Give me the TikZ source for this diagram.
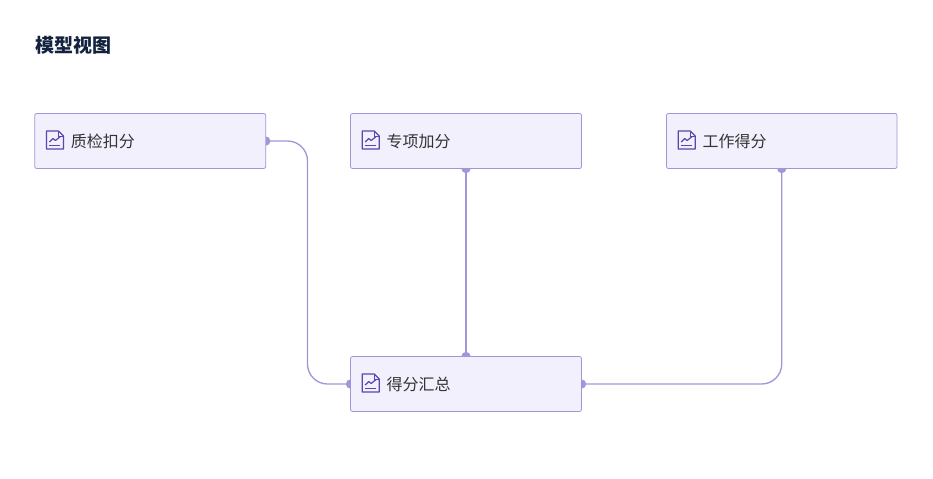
\documentclass[tikz,border=0pt]{standalone}
\usepackage{fontspec}
\setmainfont{Noto Sans CJK SC}
\usetikzlibrary{backgrounds,calc}
\definecolor{cardfill}{HTML}{F3F0FD}
\definecolor{cardline}{HTML}{A296D8}
\definecolor{iconline}{HTML}{5B45B0}
\definecolor{labeltext}{HTML}{333333}
\definecolor{headtext}{HTML}{13233F}
\tikzset{
  x=0.75pt, y=-0.75pt,
  card/.style={draw=cardline, fill=cardfill, line width=0.6pt, rounded corners=1.5pt,
    minimum width=173.25pt, minimum height=41.25pt, inner sep=0pt, outer sep=0pt},
  cardtext/.style={anchor=west, inner sep=0pt, text=labeltext, font=\fontsize{12}{14}\selectfont},
  heading/.style={anchor=west, inner sep=0pt, text=headtext, font=\fontsize{14.25}{17}\selectfont\bfseries},
  link/.style={draw=cardline, line width=1pt, rounded corners=15pt},
  linkdot/.style={fill=cardline, draw=none},
  pics/charticon/.style={code={
    \draw[iconline, line width=0.9pt, line join=round]
      (-8.5,-9) -- (3.5,-9) -- (8.5,-4) -- (8.5,9) -- (-8.5,9) -- cycle;
    \draw[iconline, line width=0.7pt] (3.5,-9) -- (3.5,-4) -- (8.5,-4);
    \draw[iconline, line width=0.9pt, line join=round] (-5.5,2) -- (-2,-1.5) -- (0.5,0.5) -- (5.5,-3.5);
    \draw[iconline, line width=0.9pt] (-5.5,5.5) -- (5.5,5.5);
  }}
}
\begin{document}
\begin{tikzpicture}
  \useasboundingbox (0,0) rectangle (933,479);
  \node[heading] (title) at (35,45) {模型视图};

  % score cards
  \node[card] (quality) at (150.25,141) {};
  \node[card] (special) at (466,141) {};
  \node[card, minimum width=172.9pt] (work) at (781.75,141) {};
  \node[card] (total) at (466,384) {};

  \foreach \c/\t in {quality/质检扣分, special/专项加分, work/工作得分, total/得分汇总} {
    \pic at ($(\c.west)+(20.2,-1)$) {charticon};
    \node[cardtext] (\c-label) at ($(\c.west)+(35.9,0)$) {\t};
  }

  % connectors sit behind the cards, so only the outer half of each dot shows
  \begin{pgfonlayer}{background}
    \coordinate (bendL) at (307.5,0);
    \path[link] (quality.east) -- (quality.east -| bendL) -- (total.west -| bendL) -- (total.west);
    \path[link, rounded corners=0pt] (special.south) -- (total.north);
    \path[link] (work.south) -- (work.south |- total.east) -- (total.east);
    \foreach \p in {quality.east, special.south, work.south, total.west, total.north, total.east}
      \fill[linkdot] (\p) circle[radius=3.5pt];
  \end{pgfonlayer}
\end{tikzpicture}
\end{document}
